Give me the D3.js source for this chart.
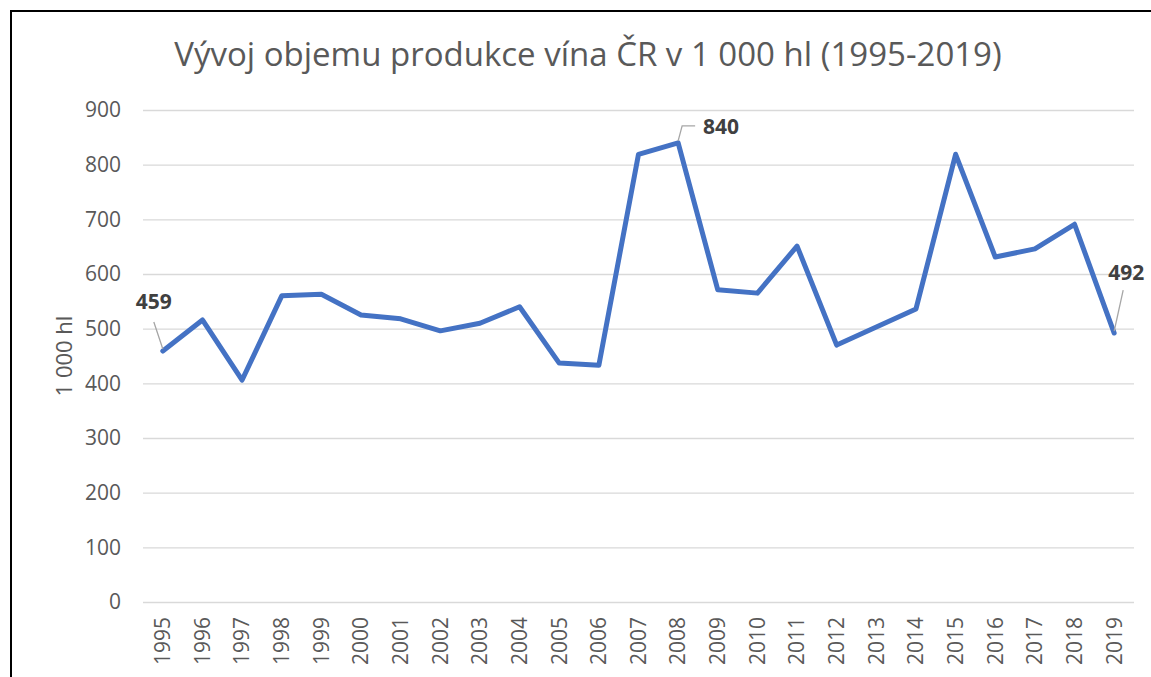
<!DOCTYPE html>
<html>
<head>
<meta charset="utf-8">
<script src="https://cdn.jsdelivr.net/npm/d3@7"></script>
<style>
  body { margin: 0; background: #fff; }
  svg { display: block; font-family: "Open Sans", "Noto Sans", sans-serif; }
</style>
</head>
<body>
<div class="chart"></div>
<script>
var years = ["1995","1996","1997","1998","1999","2000","2001","2002","2003","2004","2005","2006",
             "2007","2008","2009","2010","2011","2012","2013","2014","2015","2016","2017","2018","2019"];
var production = [459, 516, 406, 560, 563, 525, 518, 496, 510, 540, 437, 433,
                  819, 840, 571, 565, 651, 470, 503, 536, 819, 631, 646, 691, 492];
var yTicks = [0, 100, 200, 300, 400, 500, 600, 700, 800, 900];
var labelled = ["1995", "2008", "2019"];

var w = 1151, h = 677;
var plotLeft = 143, plotRight = 1134, plotTop = 110, plotBottom = 602;

var svg = d3.select(".chart").append("svg")
    .attr("width", w).attr("height", h);

// frame (only left and top edges visible)
svg.append("path")
    .attr("d", "M11,677 L11,11 L1151,11")
    .attr("fill", "none")
    .attr("stroke", "#000")
    .attr("stroke-width", 2);

var xScale = d3.scaleBand().domain(years).range([plotLeft, plotRight]);
var yScale = d3.scaleLinear().domain([0, 900]).range([plotBottom, plotTop]);

// grid + y labels
var yAxis = d3.axisLeft(yScale).tickValues(yTicks).tickSize(-(plotRight - plotLeft)).tickPadding(22);
svg.append("g")
    .attr("transform", `translate(${plotLeft},0)`)
    .call(yAxis)
    .call(g => {
        g.select(".domain").remove();
        g.selectAll("line").attr("stroke", "#d9d9d9").attr("stroke-width", 1.3);
        g.selectAll("text").attr("fill", "#595959").style("font-size", "21px")
         .attr("font-family", "Open Sans, sans-serif");
    });

// x labels
var xAxis = d3.axisBottom(xScale).tickSize(0).tickPadding(0);
svg.append("g")
    .attr("transform", `translate(0,${plotBottom})`)
    .call(xAxis)
    .call(g => {
        g.select(".domain").remove();
        g.selectAll("text")
            .attr("fill", "#595959")
            .style("font-size", "21px")
            .attr("font-family", "Open Sans, sans-serif")
            .attr("transform", "rotate(-90)")
            .attr("text-anchor", "end")
            .attr("x", -15)
            .attr("y", 0)
            .attr("dy", "0.35em");
    });

// title
svg.append("text")
    .attr("x", 588).attr("y", 66)
    .attr("text-anchor", "middle")
    .attr("fill", "#595959")
    .style("font-size", "33px")
    .text("Vývoj objemu produkce vína ČR v 1 000 hl (1995-2019)");

// y axis title
svg.append("text")
    .attr("transform", `translate(72,${(plotTop + plotBottom) / 2}) rotate(-90)`)
    .attr("text-anchor", "middle")
    .attr("fill", "#595959")
    .style("font-size", "22px")
    .text("1 000 hl");

var cx = d => xScale(d) + xScale.bandwidth() / 2;

var line = d3.line()
    .x((d, i) => cx(years[i]))
    .y(d => yScale(d));

svg.append("path")
    .datum(production)
    .attr("fill", "none")
    .attr("stroke", "#4472c4")
    .attr("stroke-width", 5)
    .attr("stroke-linejoin", "round")
    .attr("stroke-linecap", "round")
    .attr("d", line);

// data labels with leader lines
var labelPos = {
    "1995": { dx: -9, dy: -29, tx: -9, ty: -49, path: "l" },
    "2008": { dx: 4, dy: -17, tx: 43, ty: -16, path: "elbow" },
    "2019": { dx: 9, dy: -43, tx: 12, ty: -60, path: "l" }
};
labelled.forEach(function (yr) {
    var i = years.indexOf(yr);
    var px = cx(yr), py = yScale(production[i]);
    var p = labelPos[yr];
    var d = p.path === "elbow"
        ? `M${px},${py - 2} L${px + p.dx},${py + p.dy} L${px + p.dx + 13},${py + p.dy}`
        : `M${px},${py - 2} L${px + p.dx},${py + p.dy}`;
    svg.append("path")
        .attr("d", d)
        .attr("fill", "none")
        .attr("stroke", "#a6a6a6")
        .attr("stroke-width", 1.3);
    svg.append("text")
        .attr("x", px + p.tx).attr("y", py + p.ty)
        .attr("text-anchor", "middle")
        .attr("dy", "0.35em")
        .attr("fill", "#404040")
        .style("font-size", "21px")
        .style("font-weight", "bold")
        .text(production[i]);
});
</script>
</body>
</html>
